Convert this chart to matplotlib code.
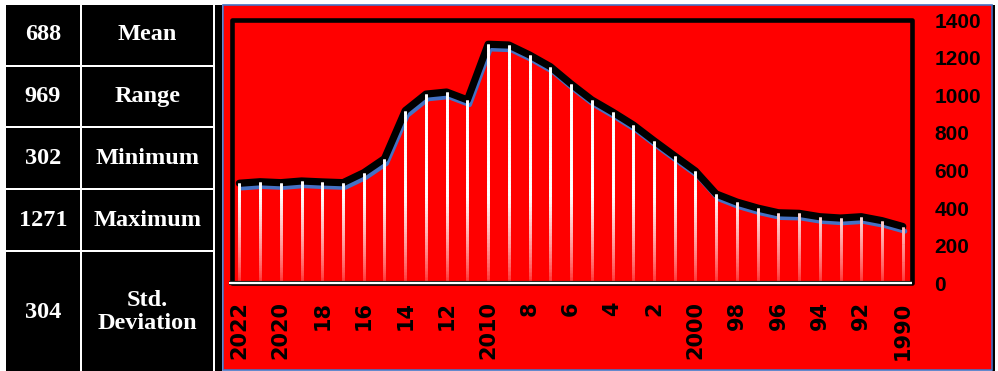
import numpy as np
import matplotlib
matplotlib.use("Agg")
import matplotlib.pyplot as plt
import matplotlib.patheffects as pe
from matplotlib.patches import Rectangle
from matplotlib.collections import LineCollection

# ---- data -------------------------------------------------------------
years = list(range(2022, 1989, -1))
values = [532, 540, 535, 544, 539, 535, 588, 663, 918, 1006, 1017, 975,
          1271, 1267, 1214, 1152, 1060, 975, 911, 842, 758, 677, 597,
          475, 432, 400, 375, 372, 354, 347, 354, 333, 302]
tick_labels = ["2022", "2020", "18", "16", "14", "12", "2010", "8", "6",
               "4", "2", "2000", "98", "96", "94", "92", "1990"]
y_ticks = [0, 200, 400, 600, 800, 1000, 1200, 1400]

stat_values = ["688", "969", "302", "1271", "304"]
stat_names = ["Mean", "Range", "Minimum", "Maximum", "Std.\nDeviation"]

# ---- figure -----------------------------------------------------------
W, H = 998, 371
fig = plt.figure(figsize=(W / 100, H / 100), dpi=100, facecolor="white")


def px_rect(x0, y0, x1, y1, **kw):
    """Rectangle given in pixel coordinates measured from the top-left."""
    return Rectangle((x0 / W, 1 - y1 / H), (x1 - x0) / W, (y1 - y0) / H,
                     transform=fig.transFigure, zorder=-1, **kw)


RED = "#FF0000"
BLUE = "#4472C4"

# statistics table on the left
rows = [(5, 65), (67, 126), (128, 188), (190, 250), (252, 372)]
cols = [(6, 80), (82, 213)]
for (r0, r1), val, name in zip(rows, stat_values, stat_names):
    for (c0, c1) in cols:
        fig.add_artist(px_rect(c0, r0, c1, r1, facecolor="black",
                               edgecolor="none"))
    cy = 1 - (r0 + r1) / 2 / H
    fig.text((cols[0][0] + cols[0][1]) / 2 / W, cy, val, ha="center",
             va="center", color="white", fontsize=17.5, fontweight="bold",
             family="Liberation Serif")
    fig.text((cols[1][0] + cols[1][1]) / 2 / W, cy, name, ha="center",
             va="center", color="white", fontsize=17.5, fontweight="bold",
             family="Liberation Serif", linespacing=1.1, multialignment="center")

# dark strip and chart background
fig.add_artist(px_rect(215, 5, 222, 372, facecolor="black", edgecolor="none"))
fig.add_artist(px_rect(992, 5, 995, 372, facecolor="black", edgecolor="none"))
fig.add_artist(px_rect(222.5, 4.5, 992, 369.5, facecolor=RED,
                       edgecolor=BLUE, linewidth=1.2))

# ---- chart axes -------------------------------------------------------
ax_l, ax_r, ax_t, ax_b = 231.7, 912.3, 20.0, 283.3
ax = fig.add_axes([ax_l / W, 1 - ax_b / H, (ax_r - ax_l) / W, (ax_b - ax_t) / H])
ax.set_zorder(2)
ax.set_facecolor(RED)
for s in ax.spines.values():
    s.set_visible(False)

x = np.arange(len(values))
v = np.array(values, dtype=float)
ax.set_xlim(-0.37, len(values) - 1 + 0.46)
ax.set_ylim(0, 1400)

# series line: black stroke with a blue offset edge underneath
ax.plot(x, v, color="black", lw=5.2, solid_joinstyle="round",
        solid_capstyle="round", zorder=3,
        path_effects=[pe.Stroke(offset=(1.5, -3.4), linewidth=3.6,
                                foreground=BLUE, capstyle="round",
                                joinstyle="round"),
                      pe.Normal()])

# white drop lines fading towards the base (overlapping opaque pieces)
red = np.array([1.0, 0.0, 0.0])
white = np.array([1.0, 1.0, 1.0])
segs, colors = [], []
n = 60
for xi, vi in zip(x, v):
    hs = np.linspace(0, vi, n + 1)
    step = hs[1] - hs[0]
    for h0, h1 in zip(hs[:-1], hs[1:]):
        segs.append([(xi, h0), (xi, min(h1 + step, vi))])
        t = np.clip((h0 + h1) / 2 / 470.0, 0, 1) ** 0.75
        w = 0.15 + 0.85 * t
        colors.append(tuple(red * (1 - w) + white * w))
ax.add_collection(LineCollection(segs, colors=colors, linewidths=2.0,
                                 capstyle="butt", zorder=4))

# frame
ax.add_patch(Rectangle((0, 0), 1, 1, transform=ax.transAxes, fill=False,
                       edgecolor="black", linewidth=3.3, joinstyle="round",
                       clip_on=False, zorder=5))
ax.plot([-0.004, 0.999], [0, 0], transform=ax.transAxes, color="white",
        lw=1.5, solid_capstyle="butt", clip_on=False, zorder=6,
        path_effects=[pe.Stroke(linewidth=3.0, foreground="#222222"),
                      pe.Normal()])

# ticks
ax.set_xticks(x[::2])
ax.set_xticklabels(tick_labels, rotation=90, fontsize=15,
                   fontweight="bold", family="DejaVu Sans", color="black")
ax.tick_params(axis="x", length=0, pad=13)

ax.yaxis.tick_right()
ax.set_yticks(y_ticks)
ax.set_yticklabels([str(t) for t in y_ticks], fontsize=15,
                   fontweight="bold", family="Liberation Sans", color="black")
ax.tick_params(axis="y", length=0, pad=16)

fig.savefig("out.png", dpi=100, facecolor="white")
